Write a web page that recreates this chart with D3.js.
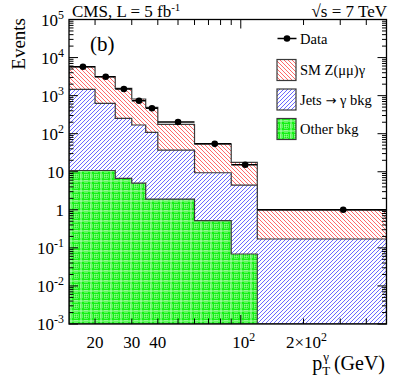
<!DOCTYPE html>
<html><head><meta charset="utf-8">
<script src="https://cdn.jsdelivr.net/npm/d3@7"></script>
<style>body{margin:0;background:#fff}text{font-family:"Liberation Serif","Times New Roman",serif;fill:#000}</style>
</head><body>
<script>
// ---- data ----
const binEdges = [15, 20, 25, 30, 35, 40, 60, 90, 120, 500];
const dataCounts = [5750, 3140, 1493, 736, 464, 203, 54, 15.3, 1];
const zgSignal = [4284, 2512, 1302, 646, 384, 139, 44.2, 13.2, 0.82];
const jetsBkg = [1455, 617, 247, 164, 107, 35.3, 8.9, 4.4, 0.171];
const otherBkg = [10.8, 10.8, 6.7, 5.0, 1.9, 1.9, 0.52, 0.069, 0];
const xLabelValues = [20, 30, 40, 100, 200];
const xLabelTexts = ["20", "30", "40", "10^2", "2×10^2"];
const yLabelValues = [1e-3, 1e-2, 1e-1, 1, 10, 1e2, 1e3, 1e4, 1e5];
const yLabelTexts = ["10^-3", "10^-2", "10^-1", "1", "10", "10^2", "10^3", "10^4", "10^5"];
const legendLabels = ["Data", "SM Z(μμ)γ", "Jets → γ bkg", "Other bkg"];

const W = 407, H = 391;
const L = 69, R = 386.5, T = 19.5, B = 324;
const svg = d3.select("body").append("svg").attr("width", W).attr("height", H);
const x = d3.scaleLog().domain([15, 500]).range([L, R]);
const y = d3.scaleLog().domain([1e-3, 1e5]).range([B, T]);

// patterns
const defs = svg.append("defs");
function hatch(id, color, dir) {
  const n = 4;
  const p = defs.append("pattern").attr("id", id).attr("patternUnits", "userSpaceOnUse")
    .attr("width", n).attr("height", n);
  p.append("rect").attr("width", n).attr("height", n).attr("fill", "#fff");
  for (let r = 0; r < n; r++) {
    const c = dir === "back" ? r : (n - r) % n;
    p.append("rect").attr("x", c).attr("y", r).attr("width", 1).attr("height", 1)
      .attr("fill", color).attr("shape-rendering", "crispEdges");
  }
}
hatch("hRed", "#ff6a6a", "back");
hatch("hBlue", "#6a6aff", "fwd");
const g = defs.append("pattern").attr("id", "hGreen").attr("patternUnits", "userSpaceOnUse")
  .attr("width", 10).attr("height", 10);
g.append("rect").attr("width", 10).attr("height", 10).attr("fill", "#14f014");
g.append("path").attr("d", "M1,0V10M0,1H10").attr("stroke", "#fff").attr("stroke-width", 0.8).attr("opacity", 0.85);
g.append("path").attr("d", "M5,0V10M0,5H10").attr("stroke", "#fff").attr("stroke-width", 0.8).attr("stroke-dasharray", "1,1").attr("opacity", 0.8);
g.append("path").attr("d", "M7,0V10M0,7H10").attr("stroke", "#fff").attr("stroke-width", 0.8).attr("stroke-dasharray", "1,1").attr("opacity", 0.8);

const clip = defs.append("clipPath").attr("id", "frame");
clip.append("rect").attr("x", L).attr("y", T).attr("width", R - L).attr("height", B - T);

// stacks
const s1 = otherBkg;
const s2 = otherBkg.map((v, i) => v + jetsBkg[i]);
const s3 = s2.map((v, i) => v + zgSignal[i]);
const yv = v => v > 1e-3 ? y(v) : B;
function stepPath(vals) {
  let d = `M${x(binEdges[0])},${B}`;
  vals.forEach((v, i) => { d += `V${yv(v)}H${x(binEdges[i + 1])}`; });
  d += `V${B}Z`;
  return d;
}
const plot = svg.append("g").attr("clip-path", "url(#frame)");
[[s3, "url(#hRed)"], [s2, "url(#hBlue)"], [s1, "url(#hGreen)"]].forEach(([vals, fill]) => {
  plot.append("path").attr("d", stepPath(vals)).attr("fill", fill)
    .attr("stroke", "#3a3a3a").attr("stroke-width", 1.2);
});

// data
const pts = plot.append("g");
dataCounts.forEach((v, i) => {
  const lo = binEdges[i], hi = binEdges[i + 1];
  pts.append("line").attr("x1", x(lo)).attr("x2", x(hi)).attr("y1", y(v)).attr("y2", y(v))
    .attr("stroke", "#000").attr("stroke-width", 1.5);
  pts.append("circle").attr("cx", x((lo + hi) / 2)).attr("cy", y(v)).attr("r", 3.3).attr("fill", "#000");
});

// frame and ticks
const ax = svg.append("g").attr("stroke", "#000").attr("stroke-width", 1);
for (let d = -3; d <= 4; d++) {
  for (let m = 1; m <= 9; m++) {
    const v = m * Math.pow(10, d), yy = y(v), len = m === 1 ? 9 : 4.5;
    ax.append("line").attr("x1", L).attr("x2", L + len).attr("y1", yy).attr("y2", yy);
    ax.append("line").attr("x1", R).attr("x2", R - len).attr("y1", yy).attr("y2", yy);
  }
}
const xt = [20, 30, 40, 50, 60, 70, 80, 90, 100, 200, 300, 400];
xt.forEach(v => {
  const xx = x(v), len = v === 100 ? 9 : 5.5;
  ax.append("line").attr("x1", xx).attr("x2", xx).attr("y1", B).attr("y2", B - len);
  ax.append("line").attr("x1", xx).attr("x2", xx).attr("y1", T).attr("y2", T + len);
});
svg.append("rect").attr("x", L).attr("y", T).attr("width", R - L).attr("height", B - T)
  .attr("fill", "none").attr("stroke", "#000").attr("stroke-width", 1.3);

function supText(sel, str) {
  const parts = str.split("^");
  sel.append("tspan").text(parts[0]);
  if (parts[1]) sel.append("tspan").attr("dy", -7).attr("font-size", "70%").text(parts[1]);
}
yLabelValues.forEach((v, i) => {
  const t = svg.append("text").attr("x", 64).attr("y", y(v) + 6).attr("text-anchor", "end").attr("font-size", 17);
  supText(t, yLabelTexts[i]);
});
xLabelValues.forEach((v, i) => {
  const t = svg.append("text").attr("x", x(v) + (xLabelTexts[i].includes("^") ? 3 : 0)).attr("y", 348).attr("text-anchor", "middle").attr("font-size", 17);
  supText(t, xLabelTexts[i]);
});

// axis titles
svg.append("text").attr("transform", "translate(25,18) rotate(-90)").attr("text-anchor", "end")
  .attr("font-size", 19).text("Events");
const xl = svg.append("text").attr("x", 385).attr("y", 370).attr("text-anchor", "end").attr("font-size", 20);
xl.append("tspan").text("p");
xl.append("tspan").attr("font-size", 13).attr("dy", 5).text("T");
xl.append("tspan").attr("font-size", 13).attr("dx", -7).attr("dy", -14).text("γ");
xl.append("tspan").attr("dy", 9).text(" (GeV)");

// header
const h1 = svg.append("text").attr("x", 72).attr("y", 16.5).attr("font-size", 17);
h1.append("tspan").text("CMS, L = 5 fb");
h1.append("tspan").attr("font-size", 11).attr("dy", -6).text("-1");
svg.append("text").attr("x", 387).attr("y", 16.5).attr("text-anchor", "end").attr("font-size", 17).text("√s = 7 TeV");
svg.append("text").attr("x", 90).attr("y", 51).attr("font-size", 21).text("(b)");

// legend
const lg = svg.append("g");
lg.append("line").attr("x1", 277.5).attr("x2", 296.5).attr("y1", 38.5).attr("y2", 38.5).attr("stroke", "#000").attr("stroke-width", 1.5);
lg.append("circle").attr("cx", 287).attr("cy", 38.5).attr("r", 3.3).attr("fill", "#000");
lg.append("text").attr("x", 300).attr("y", 43.5).attr("font-size", 14.5).text(legendLabels[0]);
const fills = ["url(#hRed)", "url(#hBlue)", "url(#hGreen)"];
const boxY = [59.5, 89, 118.5];
fills.forEach((f, i) => {
  lg.append("rect").attr("x", 277).attr("y", boxY[i]).attr("width", 19).attr("height", 21)
    .attr("fill", f).attr("stroke", "#3a3a3a").attr("stroke-width", 1.2);
  const t = lg.append("text").attr("x", 300).attr("y", boxY[i] + 15.5).attr("font-size", 14.5);
  const parts = legendLabels[i + 1].split("→");
  t.append("tspan").text(parts[0]);
  if (parts.length > 1) {
    t.append("tspan").attr("font-family", "DejaVu Sans").attr("font-size", 13).text("→");
    t.append("tspan").text(parts[1]);
  }
});
</script>
</body></html>
